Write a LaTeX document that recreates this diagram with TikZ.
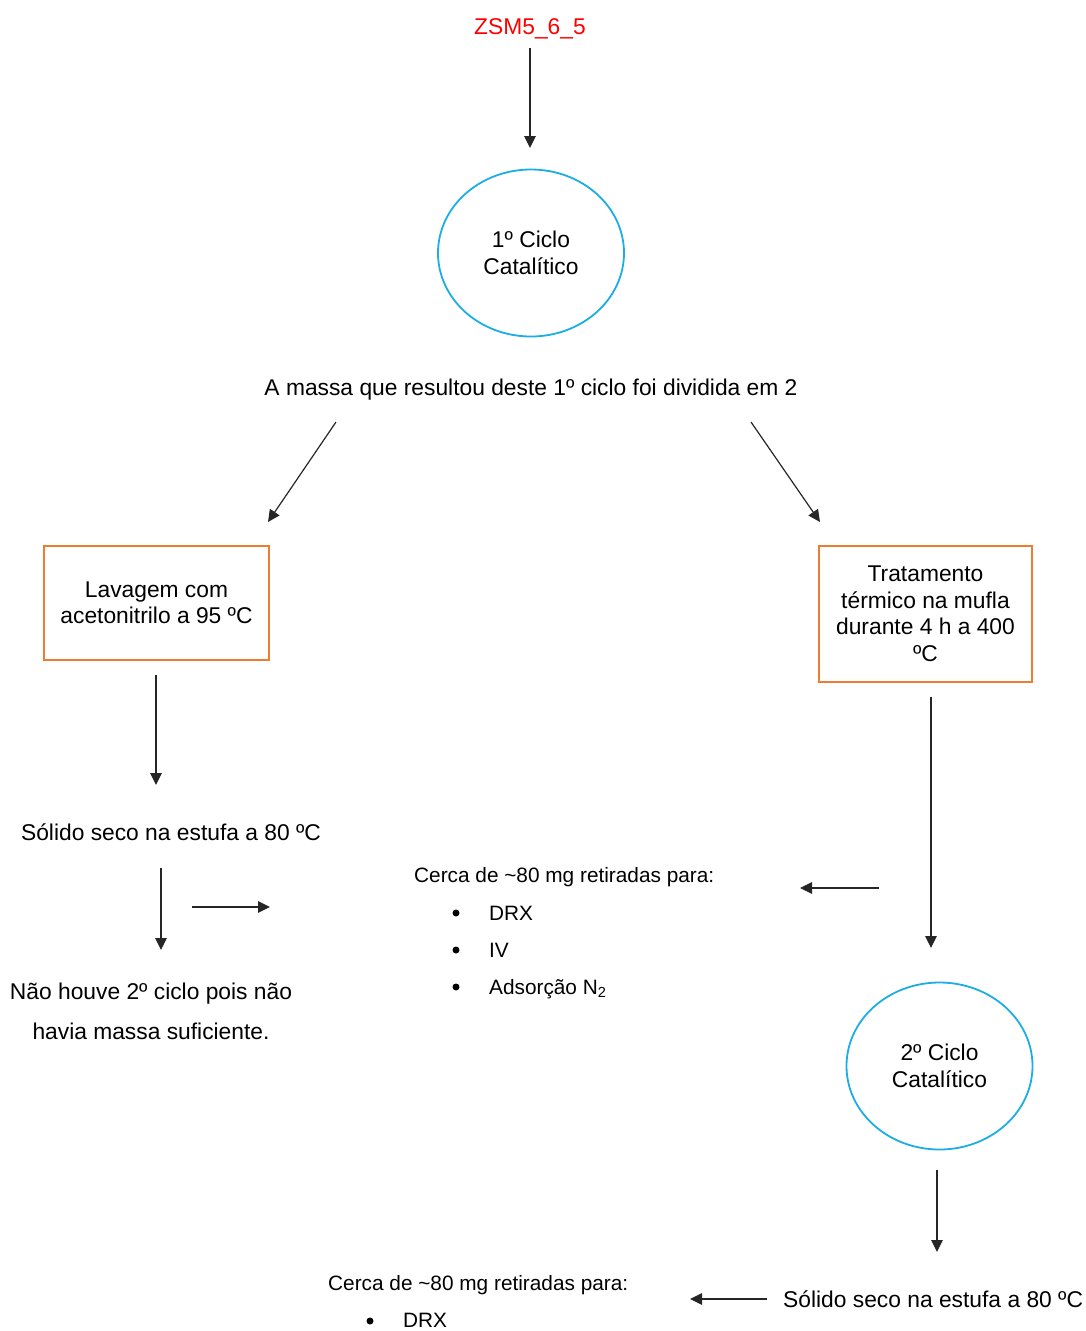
\documentclass[tikz,border=0pt]{standalone}
\usepackage{fontspec}
\setmainfont{Liberation Sans}
\usetikzlibrary{arrows.meta,shapes.geometric}
\definecolor{cyanc}{HTML}{1CADE4}
\definecolor{orangec}{HTML}{ED7D31}
\begin{document}
\begin{tikzpicture}[x=1pt,y=-1pt,
 every node/.style={inner sep=0pt, font=\fontsize{22.8}{26.5}\selectfont},
 arr/.style={line width=1.2pt, draw=black!85, -{Triangle[length=12pt,width=11.5pt]}},
 ciclo/.style={draw=cyanc, line width=1.8pt, ellipse, minimum width=186pt, minimum height=167pt, align=center},
 caixa/.style={draw=orangec, line width=1.8pt, rectangle, align=center},
 small/.style={font=\fontsize{20.8}{24}\selectfont},
 dot/.style={circle, fill=black, minimum size=7pt},
]
\useasboundingbox (0,0) rectangle (1086,1331);

% nodes
\node[text=red, anchor=base] (zsm) at (530,34) {ZSM5\_6\_5};
\node[ciclo] (c1) at (531,253) {1º Ciclo\\Catalítico};
\node[anchor=base] (massa) at (531,395) {A massa que resultou deste 1º ciclo foi dividida em 2};
\node[caixa, minimum width=225pt, minimum height=114pt] (lav) at (156.5,603) {Lavagem com\\acetonitrilo a 95 ºC};
\node[caixa, minimum width=213pt, minimum height=136pt] (trat) at (925.5,614) {Tratamento\\térmico na mufla\\durante 4 h a 400\\ºC};
\node[anchor=base] (sol1) at (171,840) {Sólido seco na estufa a 80 ºC};
\node[anchor=base] (nao1) at (151,999) {Não houve 2º ciclo pois não};
\node[anchor=base] (nao2) at (151,1039) {havia massa suficiente.};

\node[small, anchor=base west] (cerca1) at (414,882) {Cerca de \textasciitilde80 mg retiradas para:};
\node[dot] (b1) at (456,913) {};
\node[dot] (b2) at (456,950) {};
\node[dot] (b3) at (456,987) {};
\node[small, anchor=base west] (drx1) at (489,920) {DRX};
\node[small, anchor=base west] (iv1) at (489,957) {IV};
\node[small, anchor=base west] (ads1) at (489,994) {Adsorção N\textsubscript{2}};

\node[ciclo] (c2) at (939.5,1066) {2º Ciclo\\Catalítico};
\node[anchor=base west] (sol2) at (783,1307) {Sólido seco na estufa a 80 ºC};
\node[small, anchor=base west] (cerca2) at (328,1290) {Cerca de \textasciitilde80 mg retiradas para:};
\node[dot] (b4) at (370,1321) {};
\node[small, anchor=base west] (drx2) at (403,1327) {DRX};

% connector end points
\coordinate (p1a) at (530,48);   \coordinate (p1b) at (530,148);
\coordinate (p2a) at (336,422);  \coordinate (p2b) at (268,522);
\coordinate (p3a) at (751,422);  \coordinate (p3b) at (820,522);
\coordinate (p4a) at (156,675);  \coordinate (p4b) at (156,785);
\coordinate (p5a) at (161,868);  \coordinate (p5b) at (161,950);
\coordinate (p6a) at (192,907);  \coordinate (p6b) at (270,907);
\coordinate (p7a) at (879,888);  \coordinate (p7b) at (800,888);
\coordinate (p8a) at (931,697);  \coordinate (p8b) at (931,948);
\coordinate (p9a) at (937,1170); \coordinate (p9b) at (937,1252);
\coordinate (p10a) at (767,1299); \coordinate (p10b) at (690,1299);

\foreach \i in {1,...,10} {\draw[arr] (p\i a) -- (p\i b);}
\end{tikzpicture}
\end{document}
